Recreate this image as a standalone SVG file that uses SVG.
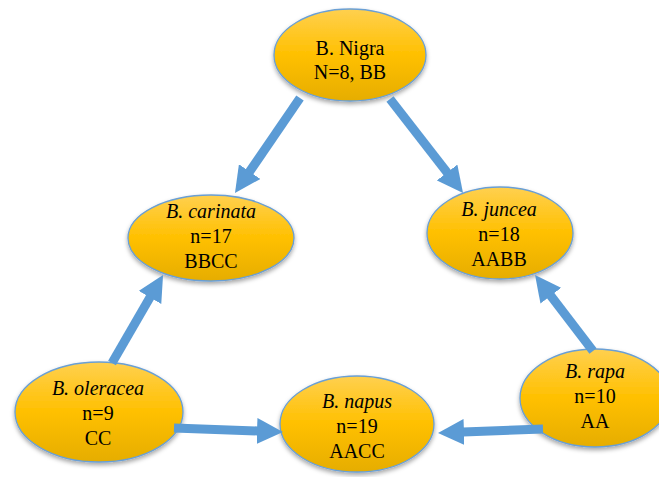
<svg xmlns="http://www.w3.org/2000/svg" width="659" height="477" viewBox="0 0 659 477">
  <defs>
    <linearGradient id="gold" x1="0" y1="0" x2="0" y2="1">
      <stop offset="0" stop-color="#FFD04F"/>
      <stop offset="0.5" stop-color="#FFC000"/>
      <stop offset="1" stop-color="#E6AD00"/>
    </linearGradient>
    <filter id="shadow" x="-20%" y="-20%" width="140%" height="150%">
      <feDropShadow dx="0" dy="2.5" stdDeviation="2" flood-color="#000" flood-opacity="0.35"/>
    </filter>
    <marker id="head" markerUnits="userSpaceOnUse" markerWidth="26" markerHeight="26" viewBox="0 0 26 26" refX="1" refY="13" orient="auto">
      <path d="M0,0 L26,13 L0,26 z" fill="#5B9BD5"/>
    </marker>
    <style>
      .node ellipse { fill: url(#gold); stroke: #6A9FD4; stroke-width: 1.3; filter: url(#shadow); }
      .node text { font-family: "Liberation Serif", "Times New Roman", serif; font-size: 20px; fill: #000; text-anchor: middle; }
      .node text.i { font-style: italic; }
      .conn line { stroke: #5B9BD5; stroke-width: 9; stroke-linecap: butt; marker-end: url(#head); }
    </style>
  </defs>
  <rect width="659" height="477" fill="#fff"/>

  <g id="nigra" class="node">
    <ellipse cx="350" cy="55" rx="76" ry="46"/>
    <text x="350" y="55">B. Nigra</text>
    <text x="350" y="79">N=8, BB</text>
  </g>
  <g id="carinata" class="node">
    <ellipse cx="211" cy="238" rx="83" ry="43"/>
    <text class="i" x="211" y="218">B. carinata</text>
    <text x="211" y="243">n=17</text>
    <text x="211" y="268">BBCC</text>
  </g>
  <g id="juncea" class="node">
    <ellipse cx="500" cy="233" rx="73" ry="46"/>
    <text class="i" x="499" y="216">B. juncea</text>
    <text x="499" y="241">n=18</text>
    <text x="499" y="266">AABB</text>
  </g>
  <g id="oleracea" class="node">
    <ellipse cx="99" cy="412" rx="84" ry="50"/>
    <text class="i" x="98" y="395">B. oleracea</text>
    <text x="98" y="420">n=9</text>
    <text x="98" y="445">CC</text>
  </g>
  <g id="napus" class="node">
    <ellipse cx="357" cy="424" rx="77" ry="48"/>
    <text class="i" x="357" y="408">B. napus</text>
    <text x="357" y="433">n=19</text>
    <text x="357" y="458">AACC</text>
  </g>
  <g id="rapa" class="node">
    <ellipse cx="595" cy="398" rx="75" ry="49"/>
    <text class="i" x="595" y="378">B. rapa</text>
    <text x="595" y="403">n=10</text>
    <text x="595" y="428">AA</text>
  </g>

  <g id="connectors" class="conn">
    <line x1="300" y1="98" x2="249.1" y2="172.4"/>
    <line x1="390" y1="99" x2="447.7" y2="173.3"/>
    <line x1="112" y1="363" x2="150.5" y2="296.6"/>
    <line x1="174" y1="428" x2="258" y2="431"/>
    <line x1="543" y1="429" x2="463" y2="432"/>
    <line x1="593" y1="351" x2="550.2" y2="294.9"/>
  </g>
</svg>
